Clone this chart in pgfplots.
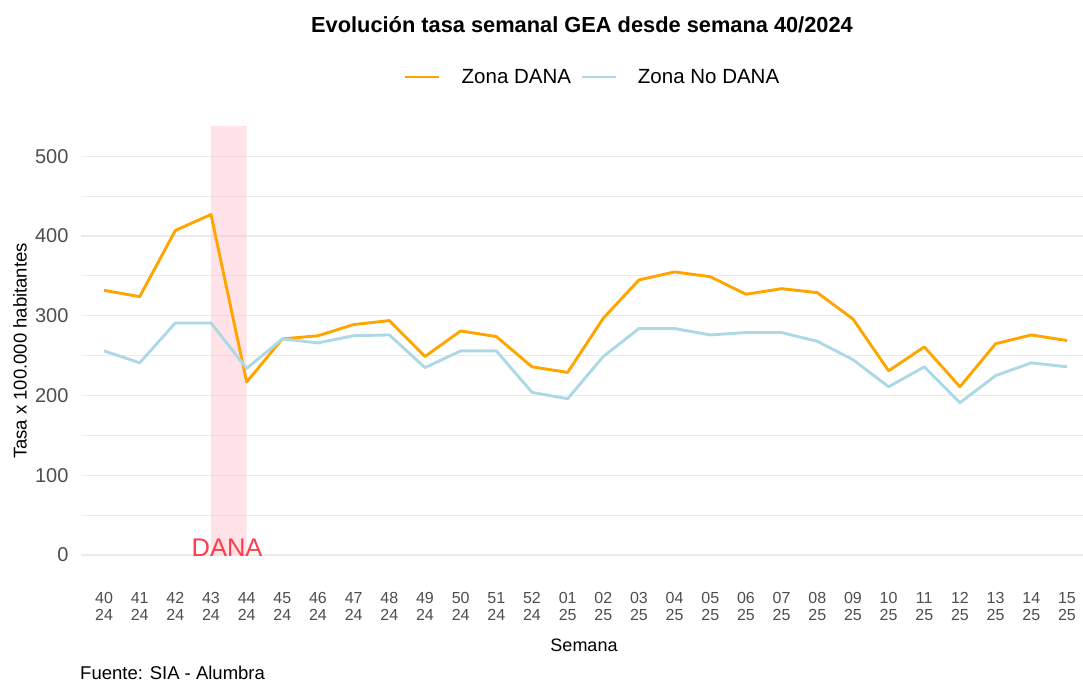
\documentclass[border=0pt]{standalone}
\usepackage{fontspec}
\setmainfont{Liberation Sans}
\usepackage{pgfplots}
\pgfplotsset{compat=1.18}
\definecolor{dana}{RGB}{255,165,0}
\definecolor{nodana}{RGB}{173,216,230}
\definecolor{bandpink}{RGB}{255,192,203}
\definecolor{danared}{RGB}{255,60,75}
\definecolor{gridgray}{RGB}{235,235,235}
\definecolor{tickgray}{RGB}{77,77,77}
\pgfplotstableread{
x dana nodana
0 332 256
1 324 241
2 407 291
3 427 291
4 217 234
5 271 271
6 275 266
7 289 275
8 294 276
9 249 235
10 281 256
11 274 256
12 236 204
13 229 196
14 297 249
15 345 284
16 355 284
17 349 276
18 327 279
19 334 279
20 329 268
21 296 245
22 231 211
23 261 236
24 211 191
25 265 225
26 276 241
27 269 236
}\datatab
\begin{document}
\begin{tikzpicture}
\path[use as bounding box] (0,0) rectangle (1083pt,684pt);
\begin{axis}[
  at={(81pt,113pt)}, anchor=south west,
  scale only axis, width=1002pt, height=445pt,
  xmin=-0.645, xmax=27.45, ymin=-20, ymax=538,
  axis line style={draw=none},
  tick style={draw=none},
  ytick={0,100,200,300,400,500},
  minor ytick={50,150,250,350,450},
  ymajorgrids, yminorgrids,
  major grid style={gridgray, line width=1.2pt},
  minor grid style={gridgray, line width=1pt},
  xtick={0,...,27},
  xticklabels={{40\\24},{41\\24},{42\\24},{43\\24},{44\\24},{45\\24},{46\\24},{47\\24},{48\\24},{49\\24},{50\\24},{51\\24},{52\\24},{01\\25},{02\\25},{03\\25},{04\\25},{05\\25},{06\\25},{07\\25},{08\\25},{09\\25},{10\\25},{11\\25},{12\\25},{13\\25},{14\\25},{15\\25}},
  xticklabel style={align=center, font=\fontsize{16}{16.5}\selectfont, text=tickgray, yshift=-18pt},
  yticklabel style={font=\fontsize{20}{20}\selectfont, text=tickgray, xshift=-9pt},
  /pgf/number format/assume math mode=true,
  legend columns=2,
  legend style={at={(axis description cs:0.5105,1.110)}, anchor=center, draw=none, fill=none,
    font=\fontsize{20.5}{20.5}\selectfont,
    /tikz/every even column/.append style={column sep=7pt}},
  legend image code/.code={\draw[#1] (0pt,0pt) -- (34pt,0pt); \path (53pt,0pt);},
]
\addplot[draw=none, fill=bandpink, fill opacity=0.45, forget plot] coordinates {(3,0) (4,0) (4,538) (3,538)} \closedcycle;
\addplot[dana, line width=2.9pt, line join=round] table[x=x, y=dana] {\datatab};
\addlegendentry{Zona DANA}
\addplot[nodana, line width=2.9pt, line join=round] table[x=x, y=nodana] {\datatab};
\addlegendentry{Zona No DANA}
\node[text=danared, font=\fontsize{25.5}{25.5}\selectfont] at (axis cs:3.45,9) {DANA};
\end{axis}
\node[font=\bfseries\fontsize{21.8}{21.8}\selectfont] at (582pt,659pt) {Evolución tasa semanal GEA desde semana 40/2024};
\node[rotate=90, font=\fontsize{18.5}{18.5}\selectfont] at (20pt,333pt) {Tasa x 100.000 habitantes};
\node[font=\fontsize{18}{18}\selectfont] at (584pt,39pt) {Semana};
\node[anchor=base west, font=\fontsize{18.5}{18.5}\selectfont, inner sep=0pt] at (80pt,4pt) {Fuente: SIA - Alumbra};
\end{tikzpicture}
\end{document}
